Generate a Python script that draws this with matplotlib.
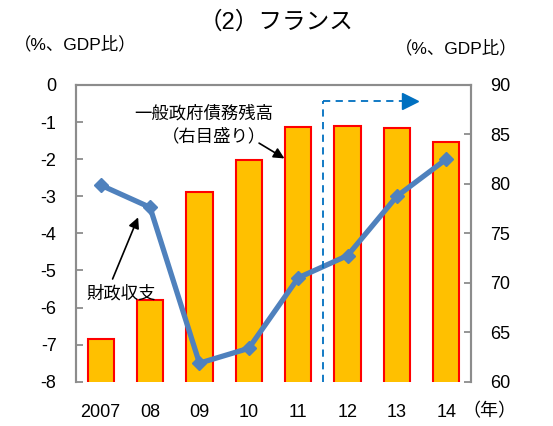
import matplotlib.pyplot as plt

plt.rcParams['font.family'] = ['Liberation Sans', 'Noto Sans CJK JP', 'DejaVu Sans']
plt.rcParams['axes.unicode_minus'] = False

years = ['2007', '08', '09', '10', '11', '12', '13', '14']
debt = [64.3, 68.3, 79.2, 82.4, 85.7, 85.9, 85.6, 84.2]          # right axis
balance = [-2.7, -3.3, -7.5, -7.1, -5.2, -4.6, -3.0, -2.0]       # left axis

x = list(range(len(years)))
spine_col = '#8c8c8c'

fig = plt.figure(figsize=(5.53, 4.26), dpi=100)
axR = fig.add_axes([0.1374, 0.104, 0.7143, 0.6966])
axL = axR.twinx()
# bars on the right scale, line on the left scale, line drawn on top
axR.yaxis.tick_right()
axL.yaxis.tick_left()
axL.set_zorder(axR.get_zorder() + 1)
axL.patch.set_visible(False)

axR.bar(x, debt, width=0.53, color='#FFC000', edgecolor='#FF0000', linewidth=1.5)
axR.set_ylim(60, 90)
axR.set_yticks(range(60, 91, 5))

axL.plot(x, balance, color='#4F81BD', linewidth=3.8, marker='D', markersize=7,
         solid_joinstyle='miter')
axL.set_ylim(-8, 0)
axL.set_yticks(range(-8, 1))
axL.set_xlim(-0.5, 7.5)

axR.set_xticks(x)
axR.set_xticklabels(years)

for a in (axR, axL):
    for side in ('left', 'right', 'top'):
        a.spines[side].set_color(spine_col)
        a.spines[side].set_linewidth(1.5)
    a.spines['bottom'].set_visible(False)
    a.tick_params(axis='y', direction='in', length=5, width=1.3, color=spine_col,
                  labelsize=13, pad=14)
    a.tick_params(axis='x', length=0, labelsize=13, pad=16)

# forecast marker: dashed bracket with arrow
axL.plot([4.5, 4.5], [-8, -0.43], color='#0070C0', linestyle='--', linewidth=1.3, dashes=(4, 3))
axL.plot([4.5, 6.15], [-0.43, -0.43], color='#0070C0', linestyle='--', linewidth=1.3, dashes=(4, 3))
axL.plot([6.27], [-0.43], marker='>', color='#0070C0', markersize=11, linestyle='none')

axL.text(2.08, -0.75, '一般政府債務残高', ha='center', va='center', fontsize=12.5)
axL.text(2.29, -1.37, '（右目盛り）', ha='center', va='center', fontsize=12.5)
axL.annotate('', xy=(3.77, -2.02), xytext=(3.16, -1.53),
             arrowprops=dict(arrowstyle='-|>', color='black', lw=1.2, mutation_scale=16))

axL.text(0.41, -5.61, '財政収支', ha='center', va='center', fontsize=12.5)
axL.annotate('', xy=(0.78, -3.50), xytext=(0.22, -5.30),
             arrowprops=dict(arrowstyle='-|>', color='black', lw=1.2, mutation_scale=16))

fig.text(0.5, 0.948, '（2）フランス', ha='center', va='center', fontsize=17)
fig.text(0.135, 0.897, '（%、GDP比）', ha='center', va='center', fontsize=12.5)
fig.text(0.825, 0.887, '（%、GDP比）', ha='center', va='center', fontsize=12.5)
fig.text(0.885, 0.033, '（年）', ha='center', va='center', fontsize=13)

fig.savefig('out.png', dpi=100)
